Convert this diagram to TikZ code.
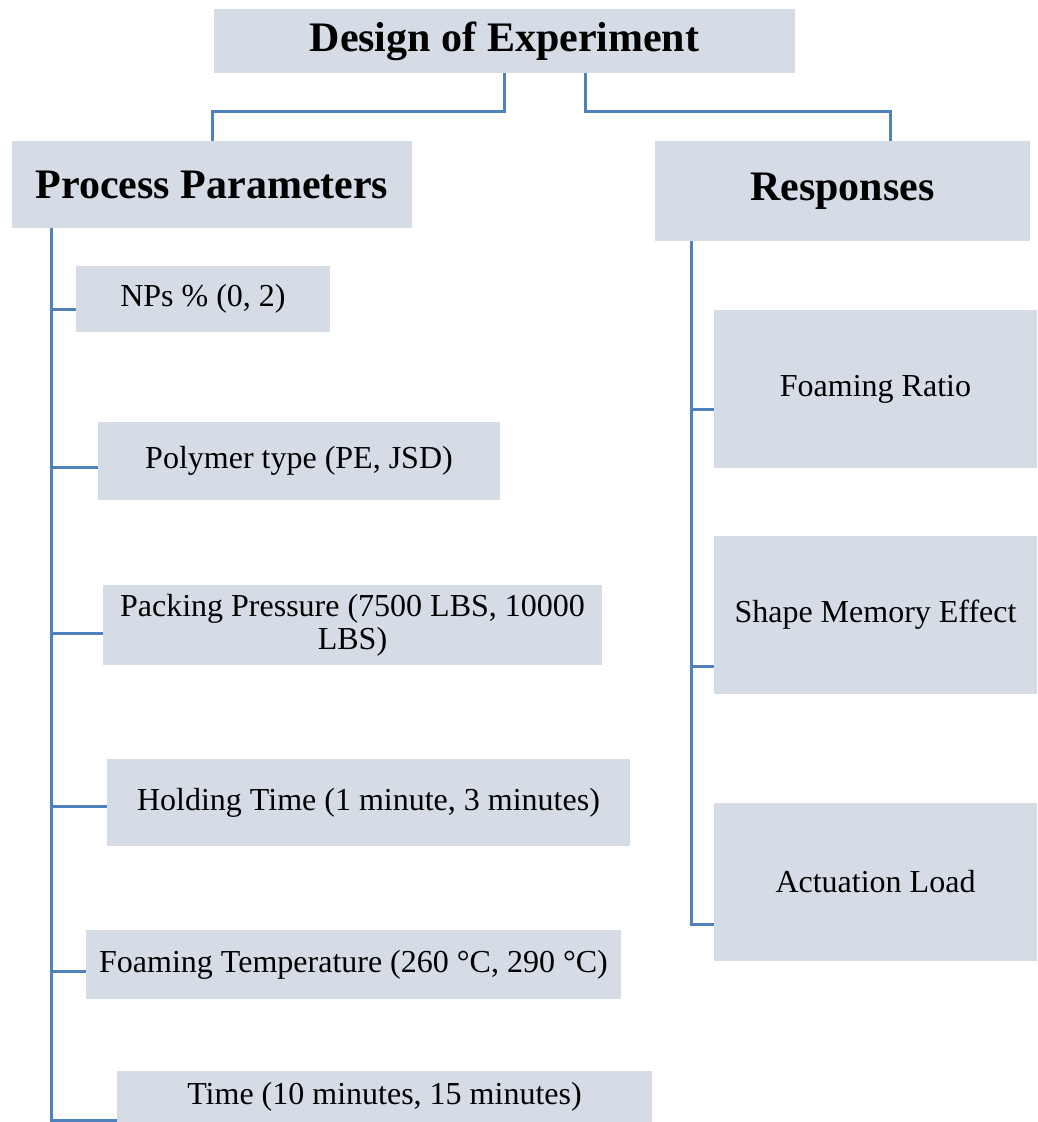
\documentclass[tikz,border=0pt]{standalone}
\usepackage{fontspec}
\setmainfont{Liberation Serif}
\usepackage{tikz}
\definecolor{boxfill}{RGB}{214,220,229}
\definecolor{linkblue}{RGB}{79,129,189}
\tikzset{
	every box/.style={
		rectangle,
		fill=boxfill,
		inner sep=0pt,
		align=center,
		font=\fontsize{32}{33}\selectfont
	},
	head box/.style={
		every box,
		font=\fontsize{42}{44}\selectfont\bfseries
	},
	link/.style={
		draw=linkblue,
		line width=3pt
	},
}
\begin{document}
\begin{tikzpicture}[x=1pt, y=-1pt]

\useasboundingbox (0,0) rectangle (1037,1122);

% top level
\node [head box, minimum width=581, minimum height=64] (doe) at (504.5,41) {Design of Experiment};
\node [head box, minimum width=400, minimum height=87] (params) at (212,184.5) {Process Parameters};
\node [head box, minimum width=375, minimum height=100] (resp) at (842.5,191) {Responses};

% process parameters
\node [every box, minimum width=254, minimum height=66] (nps) at (203,299) {NPs \% (0, 2)};
\node [every box, minimum width=402, minimum height=78] (poly) at (299,461) {Polymer type (PE, JSD)};
\node [every box, minimum width=499, minimum height=80] (pack) at (352.5,625) {Packing Pressure (7500 LBS, 10000\\LBS)};
\node [every box, minimum width=523, minimum height=87] (hold) at (368.5,802.5) {Holding Time (1 minute, 3 minutes)};
\node [every box, minimum width=535, minimum height=69] (ftemp) at (353.5,964.5) {Foaming Temperature (260 °C, 290 °C)};
\node [every box, minimum width=535, minimum height=51] (time) at (384.5,1096.5) {Time (10 minutes, 15 minutes)};

% responses
\foreach \m/\l/\y in {fratio/Foaming Ratio/389, shape/Shape Memory Effect/615, act/Actuation Load/882}
	\node [every box, minimum width=323, minimum height=158] (\m) at (875.5,\y) {\l};

% links
\draw [link] (doe.south) -- ++(0,38) -| (params.north);
\draw [link] ([xshift=80.5pt]doe.south) -- ++(0,38) -| ([xshift=47.5pt]resp.north);

\coordinate (pspine) at ([xshift=40pt]params.south west);
\coordinate (rspine) at ([xshift=37pt]resp.south west);

\foreach \b/\d in {nps/10, poly/6, pack/8, hold/3.5, ftemp/6.5, time/23.5}
	\draw [link] (pspine) |- ([yshift=-\d pt]\b.west);

\foreach \b/\d in {fratio/20, shape/51, act/42}
	\draw [link] (rspine) |- ([yshift=-\d pt]\b.west);

\end{tikzpicture}
\end{document}
